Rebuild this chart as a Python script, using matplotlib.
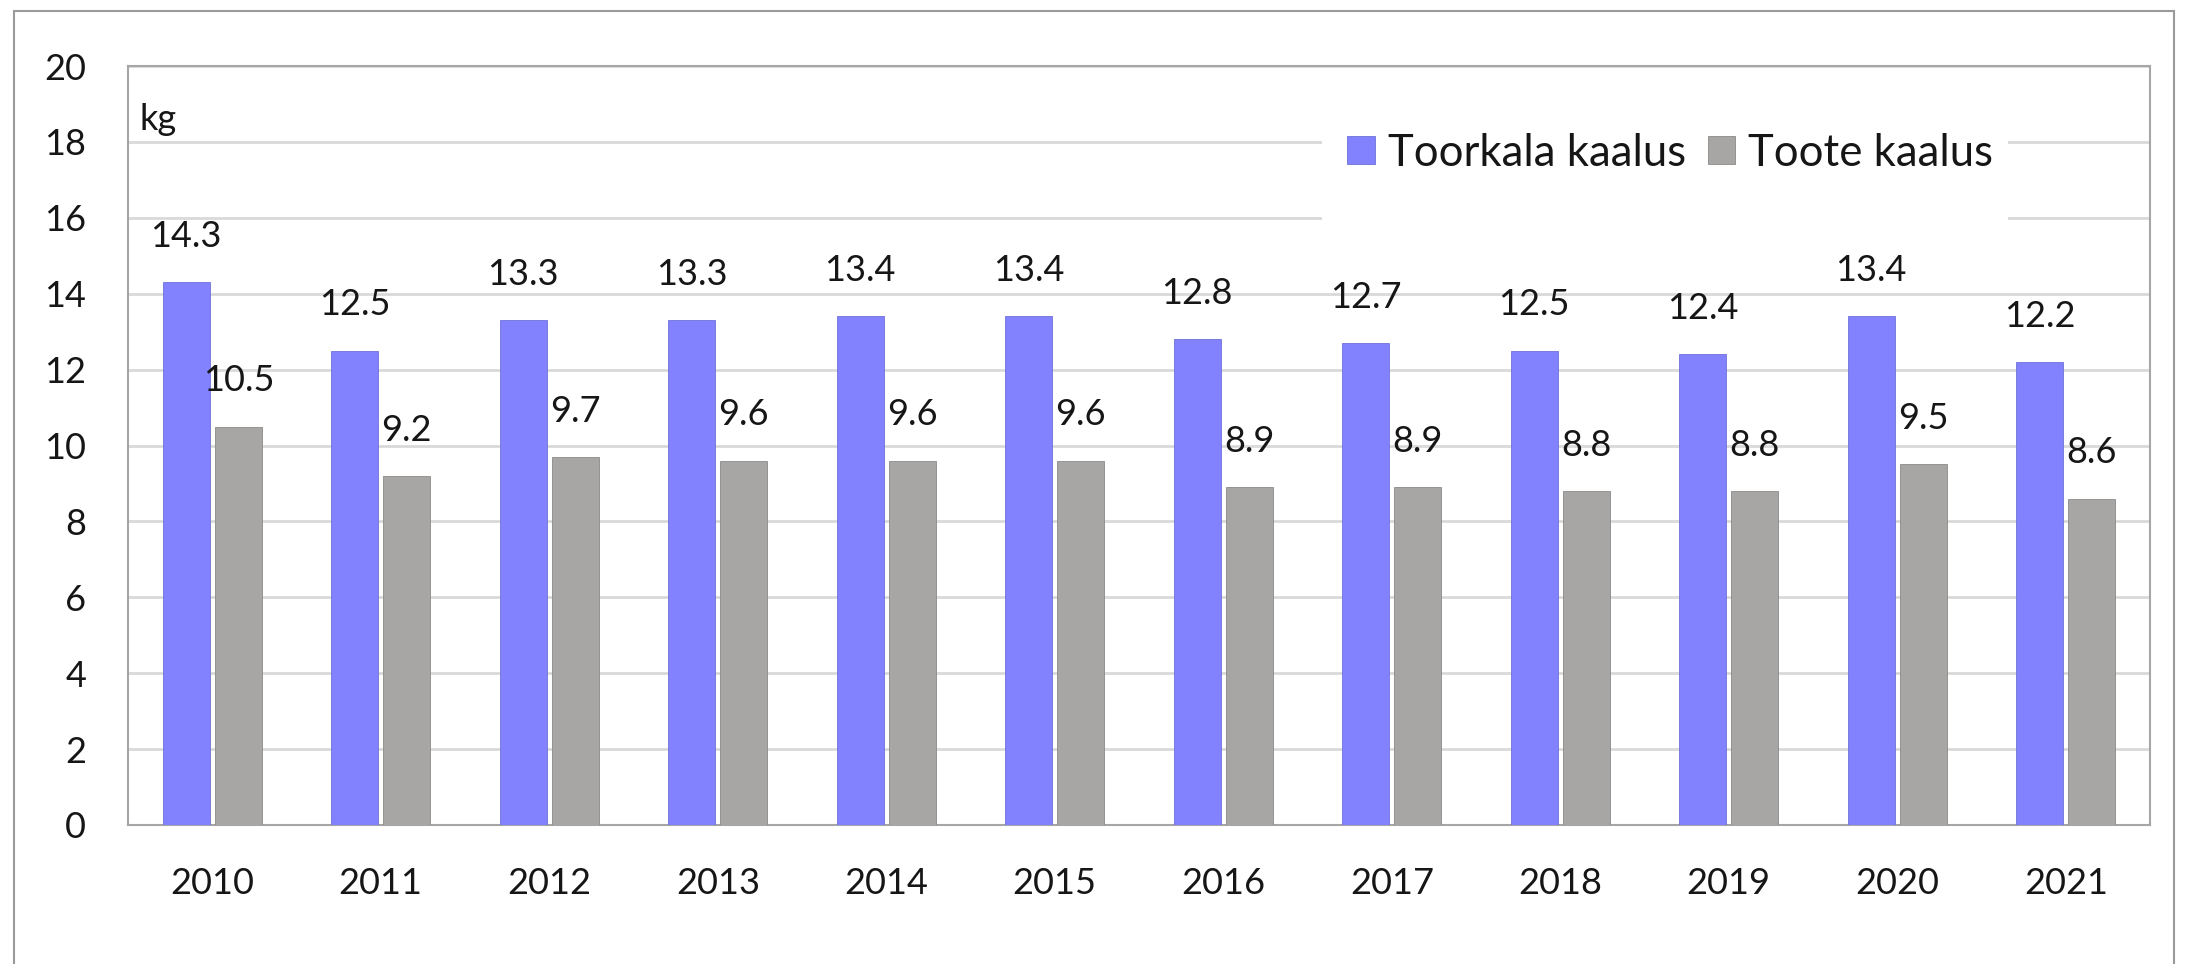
import matplotlib
matplotlib.use("Agg")
import matplotlib.pyplot as plt
from matplotlib.patches import Rectangle
import numpy as np

years = ["2010", "2011", "2012", "2013", "2014", "2015", "2016", "2017", "2018", "2019", "2020", "2021"]
raw_fish = [14.3, 12.5, 13.3, 13.3, 13.4, 13.4, 12.8, 12.7, 12.5, 12.4, 13.4, 12.2]
product = [10.5, 9.2, 9.7, 9.6, 9.6, 9.6, 8.9, 8.9, 8.8, 8.8, 9.5, 8.6]
series_names = ["Toorkala kaalus", "Toote kaalus"]
y_ticks = [0, 2, 4, 6, 8, 10, 12, 14, 16, 18, 20]
unit_label = "kg"

plt.rcParams['font.family'] = ['Lato', 'DejaVu Sans']
TXT = '#161616'
FS = 26
LFS = 31.5

W, H = 2185, 964
fig = plt.figure(figsize=(W / 100, H / 100), dpi=100)
fig.patch.set_facecolor('white')

# outer border
fig.patches.append(Rectangle((14 / W, -0.05), (2174 - 14) / W, (H - 11) / H + 0.05,
                             transform=fig.transFigure, fill=False,
                             edgecolor='#9a9a9a', linewidth=1.5, clip_on=False))

left, right, top, bottom = 128, 2150, 66, 825
aw, ah = right - left, bottom - top
ax = fig.add_axes([left / W, (H - bottom) / H, aw / W, ah / H])

x = np.arange(len(years))
bw = 0.28
off = 0.155
b1 = ax.bar(x - off, raw_fish, bw, color='#8282FF', edgecolor='#7070d8', linewidth=0.6,
            label=series_names[0], zorder=3)
b2 = ax.bar(x + off, product, bw, color='#A8A6A4', edgecolor='#8c8a88', linewidth=0.6,
            label=series_names[1], zorder=3)

for bars, vals in ((b1, raw_fish), (b2, product)):
    for rect, v in zip(bars, vals):
        ax.annotate(f"{v:.1f}", (rect.get_x() + rect.get_width() / 2, v),
                    xytext=(0, 33), textcoords='offset points',
                    ha='center', va='center', fontsize=FS, color=TXT, zorder=5)

ax.set_xlim(-0.5, len(years) - 0.5)
ax.set_ylim(0, 20)
ax.set_yticks(y_ticks)
ax.set_yticklabels([str(t) for t in y_ticks], fontsize=FS, color=TXT)
ax.set_xticks(x)
ax.set_xticklabels(years, fontsize=FS, color=TXT)
ax.tick_params(axis='both', length=0)
ax.tick_params(axis='y', pad=30)
ax.tick_params(axis='x', pad=30)
ax.yaxis.grid(True, color='#D9D9D9', linewidth=2, zorder=0)
ax.set_axisbelow(True)
for s in ax.spines.values():
    s.set_color('#A6A6A6')
    s.set_linewidth(1.5)

ax.text(12 / aw, 18.6 / 20, unit_label, transform=ax.transAxes,
        fontsize=FS, color=TXT, ha='left', va='center')

# white legend area hiding the gridlines
ax.add_patch(Rectangle(((1322 - left) / aw, (bottom - 228) / ah), (2008 - 1322) / aw, 105 / ah,
                       transform=ax.transAxes, facecolor='white', edgecolor='none', zorder=1))

leg = ax.legend(loc='center left', bbox_to_anchor=((1347 - left) / aw, (bottom - 153) / ah),
                ncol=2, frameon=False, fontsize=LFS, handlelength=0.63, handleheight=0.63,
                handletextpad=0.3, columnspacing=0.5, borderpad=0, borderaxespad=0)
for t in leg.get_texts():
    t.set_color(TXT)
leg.set_zorder(6)

fig.savefig('out.png', dpi=100, facecolor='white')
